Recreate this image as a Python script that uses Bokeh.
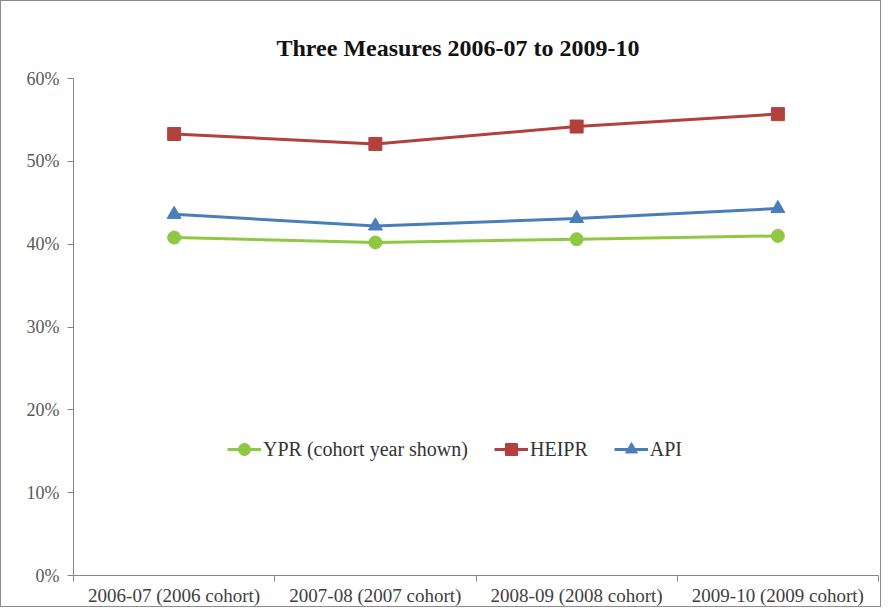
from bokeh.plotting import figure
from bokeh.models import Legend, LegendItem, FixedTicker, NumeralTickFormatter, Range1d, Title
from bokeh.embed import file_html
from bokeh.resources import INLINE

categories = ["2006-07 (2006 cohort)", "2007-08 (2007 cohort)", "2008-09 (2008 cohort)", "2009-10 (2009 cohort)"]
ypr = [0.408, 0.402, 0.406, 0.410]
heipr = [0.533, 0.521, 0.542, 0.557]
api = [0.436, 0.422, 0.431, 0.443]
y_ticks = [0.0, 0.1, 0.2, 0.3, 0.4, 0.5, 0.6]

xs = [i + 0.5 for i in range(len(categories))]
FONT = "Liberation Serif"

p = figure(width=881, height=607, output_backend="svg", toolbar_location=None,
           x_range=Range1d(0, len(categories)), y_range=Range1d(0, 0.6),
           min_border_left=72, min_border_right=4, min_border_top=77, min_border_bottom=24)
p.styles = {"border": "1px solid #8c8c8c"}
p.outline_line_color = None
p.xgrid.visible = False
p.ygrid.visible = False

t = Title(text="Three Measures 2006-07 to 2009-10", align="left", offset=203, text_font=FONT,
          text_font_size="24px", text_font_style="bold", text_color="#111111", standoff=36)
p.add_layout(t, "above")
p.title.visible = False

GREEN = "#8fc943"
RED = "#b4403d"
BLUE = "#4a7ebb"

l1 = p.line(xs, ypr, line_color=GREEN, line_width=3)
s1 = p.scatter(xs, ypr, marker="circle", size=13, fill_color=GREEN, line_color=GREEN)
l2 = p.line(xs, heipr, line_color=RED, line_width=3)
s2 = p.scatter(xs, heipr, marker="square", size=13, fill_color=RED, line_color=RED)
l3 = p.line(xs, api, line_color=BLUE, line_width=3)
s3 = p.scatter(xs, api, marker="triangle", size=14, fill_color=BLUE, line_color=BLUE)

xa = p.xaxis[0]
xa.ticker = FixedTicker(ticks=xs, minor_ticks=list(range(len(categories) + 1)))
xa.major_label_overrides = {x: c for x, c in zip(xs, categories)}
xa.major_tick_out = 0
xa.major_tick_in = 0
xa.minor_tick_out = 6
xa.minor_tick_in = 0
xa.minor_tick_line_color = "#868686"
xa.axis_line_color = "#868686"
xa.major_label_text_font = FONT
xa.major_label_text_font_size = "19px"
xa.major_label_text_color = "#404040"
xa.major_label_standoff = 3

ya = p.yaxis[0]
ya.ticker = FixedTicker(ticks=y_ticks, minor_ticks=[])
ya.formatter = NumeralTickFormatter(format="0%")
ya.major_tick_out = 6
ya.major_tick_in = 0
ya.minor_tick_out = 0
ya.minor_tick_in = 0
ya.major_tick_line_color = "#868686"
ya.axis_line_color = "#868686"
ya.major_label_text_font = FONT
ya.major_label_text_font_size = "18px"
ya.major_label_text_color = "#595959"
ya.major_label_standoff = 8

legend = Legend(items=[
    LegendItem(label="YPR (cohort year shown)", renderers=[l1, s1]),
    LegendItem(label="HEIPR", renderers=[l2, s2]),
    LegendItem(label="API", renderers=[l3, s3]),
], orientation="horizontal", location=(154, 111))
legend.background_fill_alpha = 0
legend.border_line_color = None
legend.label_text_font = FONT
legend.label_text_font_size = "20px"
legend.label_text_color = "#333333"
legend.glyph_width = 34
legend.glyph_height = 30
legend.spacing = 26
legend.label_standoff = 2
p.add_layout(legend, "center")

open("out.html", "w").write(file_html(p, INLINE))
